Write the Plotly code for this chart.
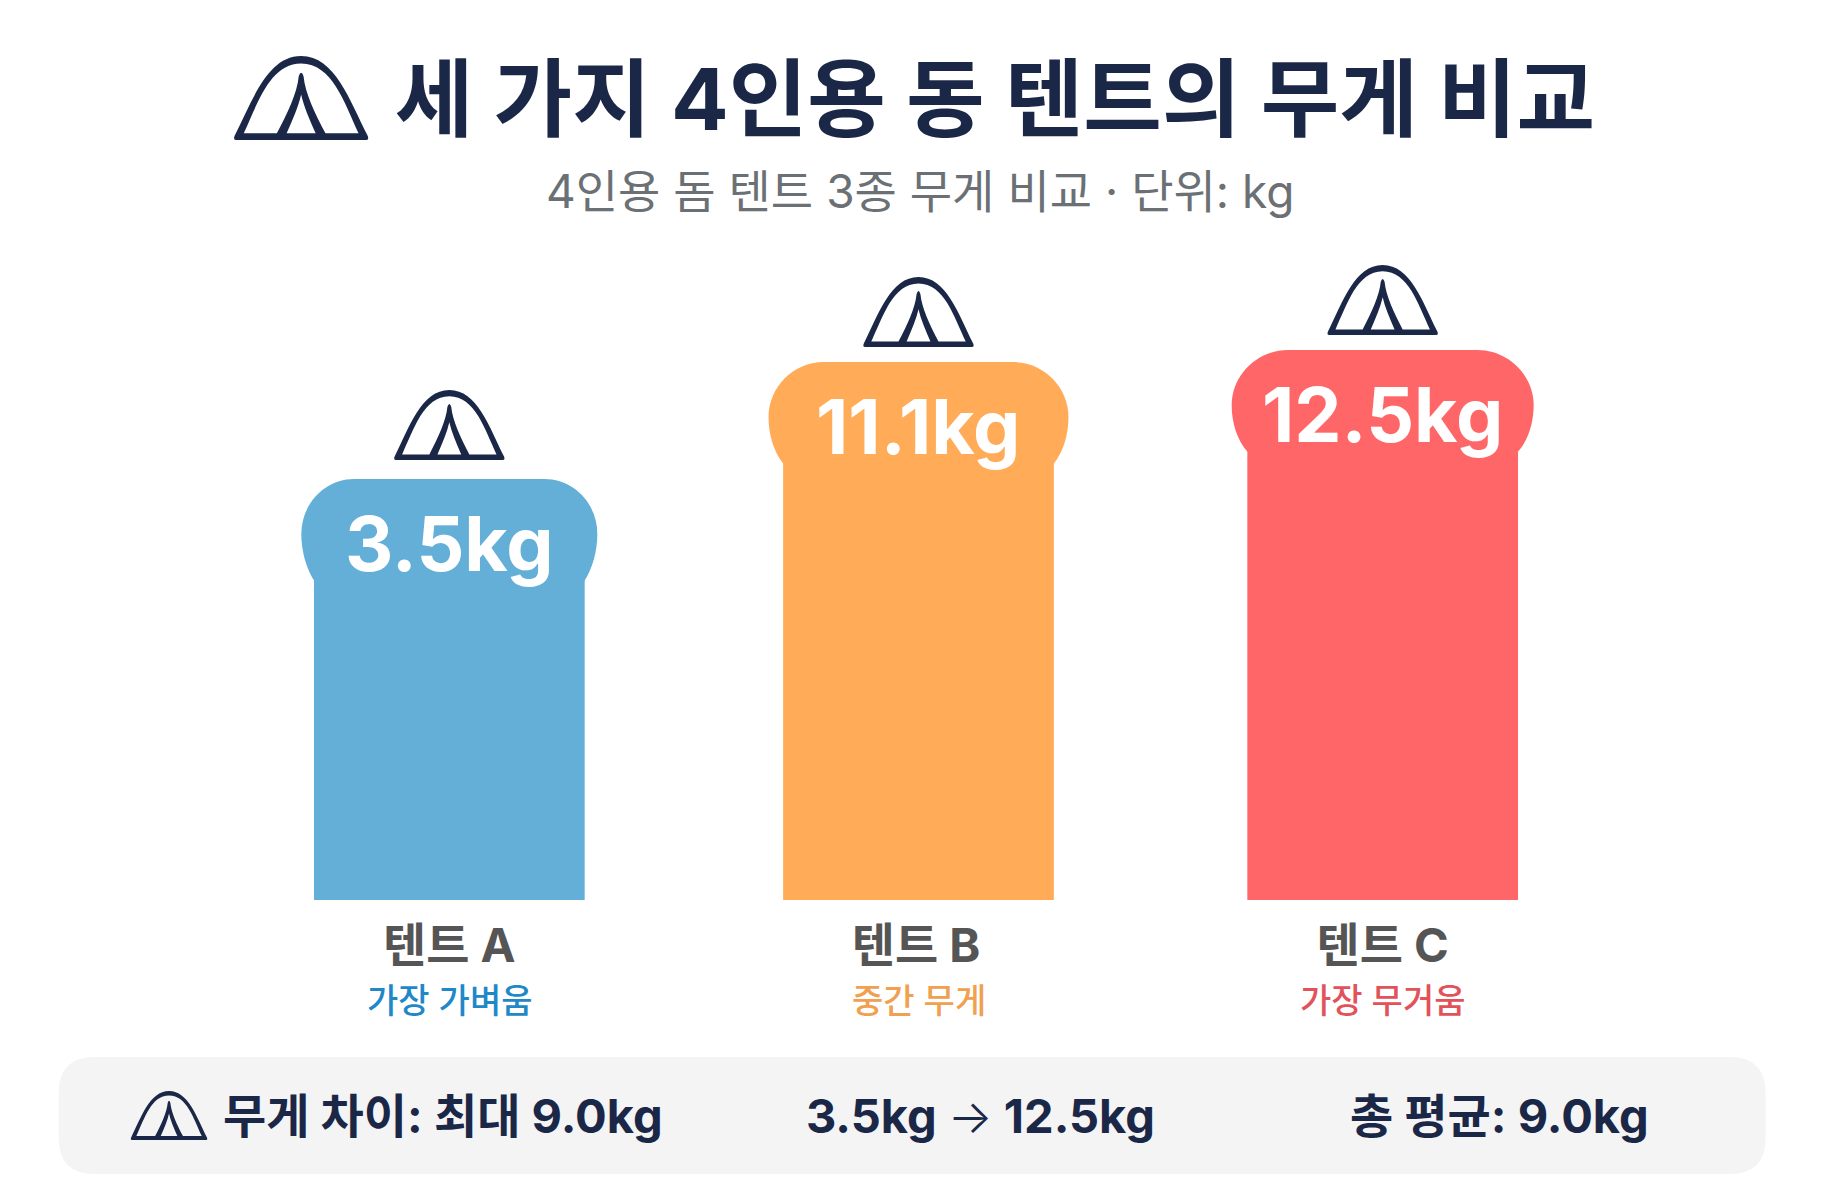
import math

import plotly.graph_objects as go

# values
tents = ["텐트 A", "텐트 B", "텐트 C"]
weights = [3.5, 11.1, 12.5]
notes = ["가장 가벼움", "중간 무게", "가장 무거움"]
bar_colors = ["#63AFD7", "#FFAB57", "#FF6667"]
note_colors = ["#1E88C8", "#F0A050", "#E2525A"]
title_text = "세 가지 4인용 동 텐트의 무게 비교"
subtitle_text = "4인용 돔 텐트 3종 무게 비교 · 단위: kg"
summary_texts = [
    "무게 차이: 최대 9.0kg",
    "3.5kg <span style='font-weight:300'>→</span> 12.5kg",
    "총 평균: 9.0kg",
]

NAVY = "#1B2747"
KR_FONT = "Inter, Noto Sans CJK KR"

# the page body has an 8px margin, so all picture positions are shifted by it
OFFSET = 8
WIDTH = 1824 - 2 * OFFSET
HEIGHT = 1184 - 2 * OFFSET
LEFT = 215.5 - OFFSET
RIGHT = 1616.5 - OFFSET
TOP = 200 - OFFSET
BOTTOM = 900 - OFFSET

# small per-bar differences seen in the picture
NUDGE_PX = [0, 2.5, 0]
CAP_HALF_W = [148, 150, 151]
ICON_GAP = [19, 15, 15]
BAR_WIDTH = 0.58

# tent icon, outer outline and holes, in units of half width / height
TENT_CONTOURS = [
    [("M", -0.96, 0), ("Q", -1.01, 0, -0.985, 0.05),
     ("C", -0.72, 0.47, -0.5, 1, 0, 1), ("C", 0.5, 1, 0.72, 0.47, 0.985, 0.05),
     ("Q", 1.01, 0, 0.96, 0)],
    [("M", -0.85, 0.08), ("C", -0.64, 0.44, -0.46, 0.91, 0, 0.91),
     ("C", 0.46, 0.91, 0.64, 0.44, 0.85, 0.08), ("L", 0.36, 0.08),
     ("C", 0.2, 0.32, 0.06, 0.56, 0.035, 0.76), ("Q", 0, 0.84, -0.035, 0.76),
     ("C", -0.06, 0.56, -0.2, 0.32, -0.36, 0.08)],
    [("M", -0.215, 0.08), ("C", -0.12, 0.25, -0.04, 0.4, 0, 0.54),
     ("C", 0.04, 0.4, 0.12, 0.25, 0.215, 0.08)],
]


def paper_x(px):
    return (px - OFFSET - LEFT) / (RIGHT - LEFT)


def paper_y(py):
    return (BOTTOM - (py - OFFSET)) / (BOTTOM - TOP)


def tent_path(half_w, height, dx=0, dy=0):
    out = []
    for contour in TENT_CONTOURS:
        for seg in contour:
            nums = seg[1:]
            pts = []
            for i in range(0, len(nums), 2):
                pts.append(f"{nums[i] * half_w + dx:.1f},{nums[i + 1] * height + dy:.1f}")
            out.append(seg[0] + " ".join(pts))
        out.append("Z")
    return " ".join(out)


def head_path(half_w, dx=0):
    # wider rounded cap on top of each bar, y=0 is the top of the cap
    s = half_w / 148
    pts = [(-135, -102), (-143, -90), (-148, -72), (-148, -55), (-148, -25), (-125, 0), (-95, 0)]
    pts = [(x * s if abs(x) > 135 else x, y) for x, y in pts]
    left = [f"{x + dx:.1f},{y}" for x, y in pts]
    right = [f"{-x + dx:.1f},{y}" for x, y in reversed(pts)]
    return (
        f"M{left[0]} C{left[1]} {left[2]} {left[3]} C{left[4]} {left[5]} {left[6]} "
        f"L{right[0]} C{right[1]} {right[2]} {right[3]} C{right[4]} {right[5]} {right[6]} Z"
    )


def paper_tent(center_px, base_py, half_w, height):
    return dict(
        type="path", xref="paper", yref="paper",
        xsizemode="pixel", ysizemode="pixel",
        xanchor=paper_x(center_px), yanchor=paper_y(base_py),
        path=tent_path(half_w, height),
        fillcolor=NAVY, line=dict(width=0),
    )


shapes = []

# grey strip at the bottom
x0, x1, y0, y1, r = 58, 1765, 1057, 1174, 36
shapes.append(dict(
    type="path", xref="paper", yref="paper",
    xsizemode="pixel", ysizemode="pixel",
    xanchor=paper_x(x0), yanchor=paper_y(y1),
    path=(
        f"M{r},0 L{x1 - x0 - r},0 Q{x1 - x0},0 {x1 - x0},{r} "
        f"L{x1 - x0},{y1 - y0 - r} Q{x1 - x0},{y1 - y0} {x1 - x0 - r},{y1 - y0} "
        f"L{r},{y1 - y0} Q0,{y1 - y0} 0,{y1 - y0 - r} L0,{r} Q0,0 {r},0 Z"
    ),
    fillcolor="#F4F4F5", line=dict(width=0), layer="below",
))

shapes.append(paper_tent(300.7, 140, 67.5, 84))
shapes.append(paper_tent(168.5, 1140, 38.5, 49))

# caps and tent icons follow the bars
for i, name in enumerate(tents):
    shapes.append(dict(
        type="path", xref="x", yref="y",
        xsizemode="pixel", ysizemode="pixel",
        xanchor=name, yanchor=weights[i],
        path=head_path(CAP_HALF_W[i], NUDGE_PX[i]),
        fillcolor=bar_colors[i], line=dict(width=0),
    ))
    shapes.append(dict(
        type="path", xref="x", yref="y",
        xsizemode="pixel", ysizemode="pixel",
        xanchor=name, yanchor=weights[i],
        path=tent_path(55.5, 70, NUDGE_PX[i], ICON_GAP[i]),
        fillcolor=NAVY, line=dict(width=0),
    ))

annotations = []

annotations.append(dict(
    text=subtitle_text, xref="paper", yref="paper",
    x=paper_x(920), y=paper_y(191), xanchor="center", yanchor="middle",
    showarrow=False, font=dict(family=KR_FONT, size=46, color="#6B7075"),
))

for name, weight, note, color, nudge in zip(tents, weights, notes, note_colors, NUDGE_PX):
    annotations.append(dict(
        text=f"{weight}kg", xref="x", yref="y",
        x=name, y=math.log10(weight), xshift=nudge, yshift=-64,
        xanchor="center", yanchor="middle", showarrow=False,
        font=dict(family="Inter", size=75, color="white", weight=700),
    ))
    annotations.append(dict(
        text=note, xref="x", yref="paper",
        x=name, y=0, xshift=nudge, yshift=-100,
        xanchor="center", yanchor="middle", showarrow=False,
        font=dict(family=KR_FONT, size=34, color=color, weight=500),
    ))

for text, center in zip(summary_texts, [443, 981, 1500]):
    annotations.append(dict(
        text=text, xref="paper", yref="paper",
        x=paper_x(center), y=paper_y(1115), xanchor="center", yanchor="middle",
        showarrow=False, font=dict(family=KR_FONT, size=47, color=NAVY, weight=700),
    ))

fig = go.Figure()
fig.add_trace(go.Bar(
    x=tents, y=weights, width=BAR_WIDTH,
    offset=[-BAR_WIDTH / 2 + n / 467 for n in NUDGE_PX],
    marker=dict(color=bar_colors, line=dict(width=0), cornerradius=50),
    hoverinfo="skip", showlegend=False,
))

fig.update_layout(
    width=WIDTH,
    height=HEIGHT,
    margin=dict(l=LEFT, r=WIDTH - RIGHT, t=TOP, b=HEIGHT - BOTTOM),
    paper_bgcolor="white",
    plot_bgcolor="rgba(0,0,0,0)",
    title=dict(
        text=title_text, xref="container", yref="container",
        x=(995 - OFFSET) / WIDTH, y=1 - (100 - OFFSET) / HEIGHT,
        xanchor="center", yanchor="middle",
        font=dict(family=KR_FONT, size=85.4, color=NAVY, weight=700),
    ),
    shapes=shapes,
    annotations=annotations,
)
fig.update_xaxes(
    type="category", range=[-0.5, 2.5],
    showgrid=False, zeroline=False, showline=False, ticks="",
    ticklabelstandoff=14,
    tickfont=dict(family=KR_FONT, size=47, color="#555555", weight=700),
)
# log scale is what the bar heights in the picture follow
fig.update_yaxes(
    type="log", range=[-1.26, 1.74],
    showgrid=False, zeroline=False, showline=False,
    showticklabels=False, ticks="",
)

fig.write_html("out.html")
